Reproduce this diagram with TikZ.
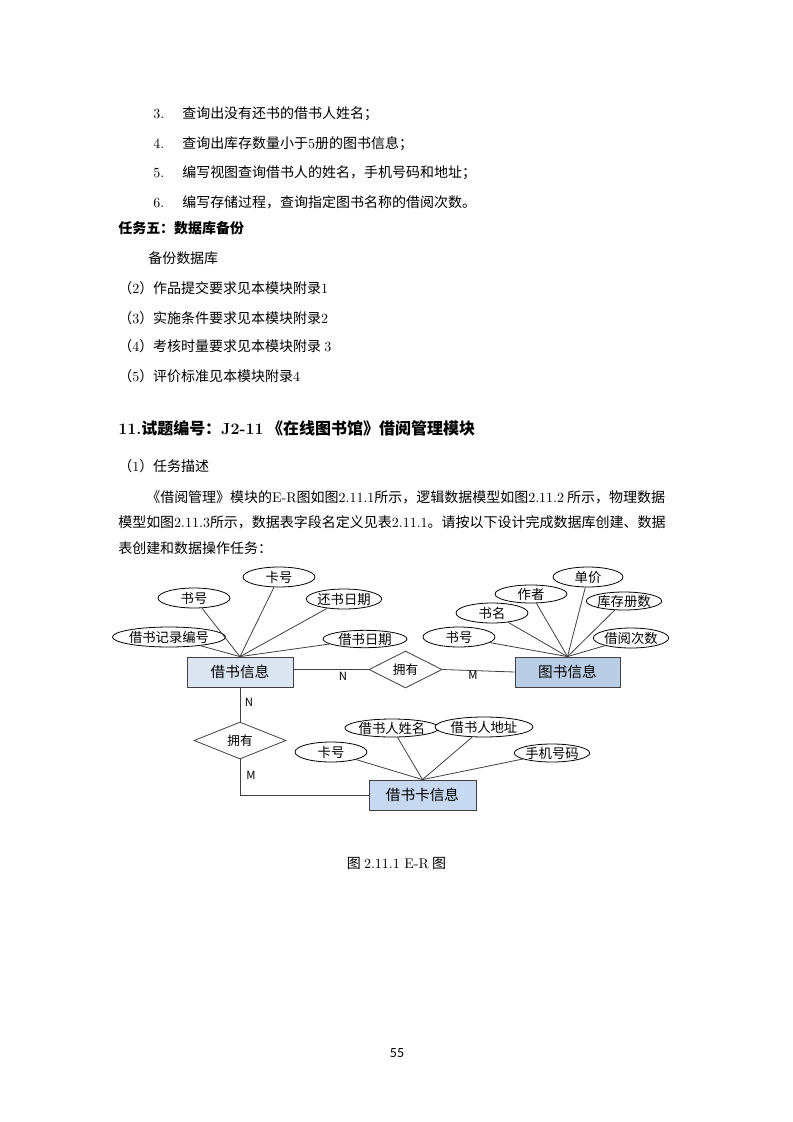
\documentclass[tikz,border=0pt]{standalone}
\usepackage{fontspec}
\newfontfamily\cjk{Noto Sans CJK SC}
\newfontfamily\pagefont{Carlito}
\usetikzlibrary{shapes.geometric}
\definecolor{entlight}{HTML}{DCE6F2}
\definecolor{entmid}{HTML}{C6D9F1}
\definecolor{entdark}{HTML}{B9CDE5}
\definecolor{linecol}{HTML}{404040}
\tikzset{
  body/.style={anchor=base west, inner sep=0pt, font=\cjk\fontsize{10.5}{12}\selectfont},
  attr/.style={ellipse, draw=black, line width=0.6pt, fill=white, inner sep=0pt, font=\cjk\fontsize{10}{10}\selectfont},
  ent/.style={rectangle, draw=linecol, line width=0.6pt, inner sep=0pt, minimum height=22.5pt, font=\cjk\fontsize{11}{11}\selectfont},
  rel/.style={diamond, draw=linecol, line width=0.6pt, fill=white, inner sep=0pt, font=\cjk\fontsize{9.5}{9.5}\selectfont},
  conn/.style={draw=linecol, line width=0.6pt},
  card/.style={inner sep=0pt, font=\cjk\fontsize{8.5}{8.5}\selectfont},
}
\begin{document}
\begin{tikzpicture}[x=0.7504pt, y=-0.7504pt]
\useasboundingbox[fill=white] (0,0) rectangle (793,1122);
% list of queries
\node[body] (n3) at (153,118) {\textrm{3.}};
\node[body] (t3) at (182,118) {查询出没有还书的借书人姓名；};
\node[body] (n4) at (153,148) {\textrm{4.}};
\node[body] (t4) at (182,148) {查询出库存数量小于\textrm{5}册的图书信息；};
\node[body] (n5) at (153,177) {\textrm{5.}};
\node[body] (t5) at (182,177) {编写视图查询借书人的姓名，手机号码和地址；};
\node[body] (n6) at (153,207) {\textrm{6.}};
\node[body] (t6) at (182,207) {编写存储过程，查询指定图书名称的借阅次数。};
\node[body, font=\cjk\bfseries\fontsize{10.5}{12}\selectfont] (task5) at (118,233) {任务五：数据库备份};
\node[body] (bak) at (148,263) {备份数据库};
\node[body] (r2) at (118,293) {（\textrm{2}）作品提交要求见本模块附录\textrm{1}};
\node[body] (r3) at (118,323) {（\textrm{3}）实施条件要求见本模块附录\textrm{2}};
\node[body] (r4) at (118,351) {（\textrm{4}）考核时量要求见本模块附录 \textrm{3}};
\node[body] (r5) at (118,381) {（\textrm{5}）评价标准见本模块附录\textrm{4}};
% heading and description
\node[body, font=\cjk\bfseries\fontsize{12}{14}\selectfont] (head) at (118,434) {\textrm{11.}试题编号：\textrm{J2-11}\ 《在线图书馆》借阅管理模块};
\node[body] (desc) at (118,471) {（\textrm{1}）任务描述};
\node[body] (p1) at (146,502) {《借阅管理》模块的\textrm{E-R}图如图\textrm{2.11.1}所示，逻辑数据模型如图\textrm{2.11.2} 所示，物理数据};
\node[body] (p2) at (118,527) {模型如图\textrm{2.11.3}所示，数据表字段名定义见表\textrm{2.11.1}。请按以下设计完成数据库创建、数据};
\node[body] (p3) at (118,553) {表创建和数据操作任务：};
% entities and relations
\node[ent, fill=entlight, minimum width=79.5pt] (jsxx) at (240,672) {借书信息};
\node[ent, fill=entdark, minimum width=78.75pt] (tsxx) at (567.5,672) {图书信息};
\node[ent, fill=entmid, minimum width=80.25pt] (jskxx) at (422.5,795) {借书卡信息};
\node[rel, minimum width=54.75pt, minimum height=26.25pt] (yy1) at (405.5,669.5) {拥有};
\node[rel, minimum width=69pt, minimum height=27.75pt] (yy2) at (240,740.5) {拥有};
% attributes of 借书信息
\node[attr, minimum width=54pt, minimum height=15pt] (kh1) at (279,577) {卡号};
\node[attr, minimum width=54pt, minimum height=15pt] (sh1) at (194,598) {书号};
\node[attr, minimum width=54pt, minimum height=15pt] (hsrq) at (344,599) {还书日期};
\node[attr, minimum width=66pt, minimum height=15pt] (jljbh) at (169,637) {借书记录编号};
\node[attr, minimum width=63pt, minimum height=12.5pt] (jsrq) at (365,639) {借书日期};
% attributes of 图书信息
\node[attr, minimum width=52.5pt, minimum height=15pt] (dj) at (588,577) {单价};
\node[attr, minimum width=54pt, minimum height=13.5pt] (zz) at (531,594) {作者};
\node[attr, minimum width=54pt, minimum height=13.5pt] (kccs) at (624,601) {库存册数};
\node[attr, minimum width=54pt, minimum height=15pt] (sm) at (492,613) {书名};
\node[attr, minimum width=54pt, minimum height=15pt] (sh2) at (459,637) {书号};
\node[attr, minimum width=54pt, minimum height=15pt] (jycs) at (631,638) {借阅次数};
% attributes of 借书卡信息
\node[attr, minimum width=54pt, minimum height=13.5pt] (jsrxm) at (392,728) {借书人姓名};
\node[attr, minimum width=73.5pt, minimum height=15pt] (jsrdz) at (484,727) {借书人地址};
\node[attr, minimum width=54pt, minimum height=15pt] (kh2) at (331,752) {卡号};
\node[attr, minimum width=54pt, minimum height=13.5pt] (sjhm) at (552,753) {手机号码};
% connectors
\foreach \a in {kh1,sh1,hsrq,jljbh,jsrq}
  \draw[conn] (jsxx.north) -- (\a);
\foreach \a in {dj,zz,kccs,sm,sh2,jycs}
  \draw[conn] (tsxx.north) -- (\a);
\foreach \a in {jsrxm,jsrdz,kh2,sjhm}
  \draw[conn] (jskxx.north) -- (\a);
\draw[conn] (yy1.west -| jsxx.east) -- (yy1.west);
\draw[conn] (yy1.east) -- (tsxx.west);
\draw[conn] (jsxx.south) -- (yy2.north);
\draw[conn] (yy2.south) |- (jskxx.west);
\node[card] (c1) at (343,676) {N};
\node[card] (c2) at (473,675) {M};
\node[card] (c3) at (249,702) {N};
\node[card] (c4) at (251,775) {M};
% caption and page number
\node[inner sep=0pt, font=\cjk\fontsize{10.5}{12}\selectfont] (cap) at (396.5,863) {图 \textrm{2.11.1 E-R} 图};
\node[inner sep=0pt, font=\pagefont\fontsize{10.5}{12}\selectfont] (pg) at (397,1053) {55};
\end{tikzpicture}
\end{document}
